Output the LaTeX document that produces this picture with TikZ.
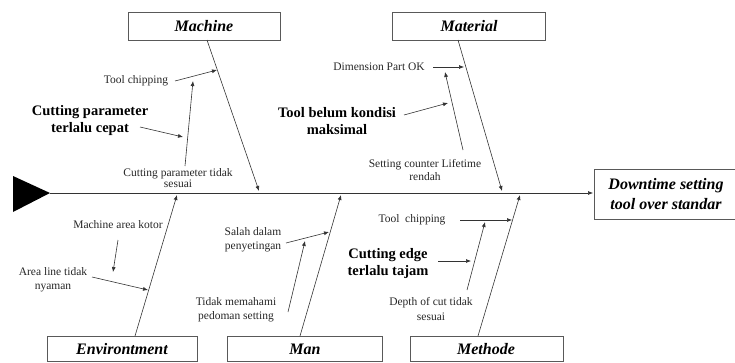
\documentclass[tikz,border=0pt]{standalone}
\usepackage{fontspec}
\setmainfont{Liberation Serif}
\usetikzlibrary{arrows.meta}
\tikzset{
  catbox/.style={draw=black!65, line width=0.9pt, fill=white, inner sep=0pt},
  cattext/.style={font=\fontsize{16}{19}\selectfont\bfseries\itshape},
  small/.style={font=\fontsize{11.5}{14}\selectfont, align=center, inner sep=1pt, text=black!85},
  big/.style={font=\fontsize{14.5}{17}\selectfont\bfseries, align=center, inner sep=1pt},
  bone/.style={draw=black!80, line width=0.6pt, -{Latex[length=5pt,width=4pt]}},
}
\begin{document}
\begin{tikzpicture}[x=1pt,y=-1pt]
\useasboundingbox (0,0) rectangle (735,362);
% category boxes
\draw[catbox] (128,12) rectangle (280,40);
\node[cattext] (mach) at (204,26) {Machine};
\draw[catbox] (392,12) rectangle (545,40);
\node[cattext] (mat) at (469,26) {Material};
\draw[catbox] (47,336) rectangle (197,361);
\node[cattext] (env) at (122,349) {Environtment};
\draw[catbox] (227,336) rectangle (382,361);
\node[cattext] (man) at (305,349) {Man};
\draw[catbox] (410,336) rectangle (563,361);
\node[cattext] (meth) at (486,349) {Methode};
\draw[catbox] (594,169) rectangle (735,219);
\node[cattext, align=center, font=\fontsize{16}{20}\selectfont\bfseries\itshape] (dt) at (666,194) {Downtime setting\\tool over standar};
% head triangle and spine
\fill[black] (13,176) -- (50,193) -- (13,212) -- cycle;
\coordinate (tail) at (50,193);
\coordinate (head) at (593,193);
\draw[bone] (tail) -- (head);
% bone coordinates
\coordinate (mA) at (207,40);  \coordinate (mB) at (259,191);
\coordinate (tA) at (458,40);  \coordinate (tB) at (502,191);
\coordinate (eA) at (135,336); \coordinate (eB) at (177,195);
\coordinate (nA) at (300,336); \coordinate (nB) at (341,195);
\coordinate (hA) at (478,336); \coordinate (hB) at (520,195);
\draw[bone] (mA) -- (mB);
\draw[bone] (tA) -- (tB);
\draw[bone] (eA) -- (eB);
\draw[bone] (nA) -- (nB);
\draw[bone] (hA) -- (hB);
% Machine
\node[small] (tc1) at (136,81) {Tool chipping};
\node[big] (cp1) at (90,121) {Cutting parameter\\terlalu cepat};
\node[small, font=\fontsize{11.5}{10.5}\selectfont] (cpt) at (178,178) {Cutting parameter tidak\\sesuai};
\coordinate (cptTop) at (185,166); \coordinate (cptEnd) at (193,81);
\coordinate (tc1s) at (175,81);   \coordinate (tc1e) at (217,70);
\coordinate (cp1s) at (140,127);  \coordinate (cp1e) at (183,137);
\draw[bone] (cptTop) -- (cptEnd);
\draw[bone] (tc1s) -- (tc1e);
\draw[bone] (cp1s) -- (cp1e);
% Material
\node[small] (dim) at (379,67) {Dimension Part OK};
\node[big] (tbk) at (337,121) {Tool belum kondisi\\maksimal};
\node[small, font=\fontsize{11.5}{13}\selectfont] (scl) at (425,170) {Setting counter Lifetime\\rendah};
\coordinate (dims) at (433,67);  \coordinate (dime) at (464,67);
\coordinate (tbks) at (404,115); \coordinate (tbke) at (448,103);
\coordinate (scls) at (463,150); \coordinate (scle) at (445,72);
\draw[bone] (dims) -- (dime);
\draw[bone] (tbks) -- (tbke);
\draw[bone] (scls) -- (scle);
% Environment
\node[small] (mak) at (118,225) {Machine area kotor};
\node[small] (alt) at (53,280) {Area line tidak\\nyaman};
\coordinate (maks) at (118,240); \coordinate (make) at (113,272);
\coordinate (alts) at (92,277);  \coordinate (alte) at (148,290);
\draw[bone] (maks) -- (make);
\draw[bone] (alts) -- (alte);
% Man
\node[small] (sdp) at (253,240) {Salah dalam\\penyetingan};
\node[small] (tmp) at (236,310) {Tidak memahami\\pedoman setting};
\coordinate (sdps) at (286,243); \coordinate (sdpe) at (329,232);
\coordinate (tmps) at (288,312); \coordinate (tmpe) at (305,241);
\draw[bone] (sdps) -- (sdpe);
\draw[bone] (tmps) -- (tmpe);
% Methode
\node[small] (tc2) at (412,220) {Tool\ \ chipping};
\node[big] (cet) at (388,264) {Cutting edge\\terlalu tajam};
\node[small] (doc) at (431,309) {Depth of cut tidak\\sesuai};
\coordinate (tc2s) at (460,220); \coordinate (tc2e) at (512,220);
\coordinate (cets) at (438,261); \coordinate (cete) at (471,261);
\coordinate (docs) at (467,290); \coordinate (doce) at (485,222);
\draw[bone] (tc2s) -- (tc2e);
\draw[bone] (cets) -- (cete);
\draw[bone] (docs) -- (doce);
\end{tikzpicture}
\end{document}
